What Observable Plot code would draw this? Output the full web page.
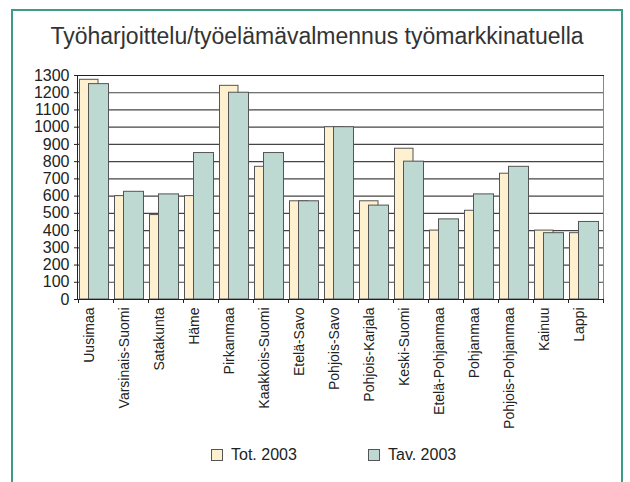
<!DOCTYPE html>
<html><head><meta charset="utf-8">
<script src="https://cdn.jsdelivr.net/npm/d3@7"></script>
<script src="https://cdn.jsdelivr.net/npm/@observablehq/plot@0.6"></script>
<style>
body{margin:0;background:#fff;font-family:"Liberation Sans",Arial,sans-serif;}
#frame{position:absolute;left:11px;top:9px;width:612px;height:520px;border:2px solid #3d9c86;box-sizing:border-box;}
#title{position:absolute;left:0;top:23px;width:634px;text-align:center;font-size:23px;color:#333;white-space:nowrap;}
#chart{position:absolute;left:0;top:60px;}
#chart g[aria-label="y-axis tick label"]{font-size:16px;}
#chart g[aria-label="x-axis tick label"]{font-size:14px;}
.leg{position:absolute;top:446px;font-size:16px;color:#222;line-height:18px;}
.sw{position:absolute;top:449px;width:10px;height:10px;border:1px solid #555;}
</style></head><body>
<div id="frame"></div>
<div id="title">Työharjoittelu/työelämävalmennus työmarkkinatuella</div>
<div id="chart"></div>
<div id="legend"></div>
<script>
const categories = ["Uusimaa","Varsinais-Suomi","Satakunta","Häme","Pirkanmaa","Kaakkois-Suomi","Etelä-Savo","Pohjois-Savo","Pohjois-Karjala","Keski-Suomi","Etelä-Pohjanmaa","Pohjanmaa","Pohjois-Pohjanmaa","Kainuu","Lappi"];
const tot2003 = [1275,600,490,600,1240,770,570,1000,570,875,400,515,730,400,385];
const tav2003 = [1250,625,610,850,1200,850,570,1000,545,800,465,610,770,385,450];
const yTicks = [0,100,200,300,400,500,600,700,800,900,1000,1100,1200,1300];
const seriesNames = ["Tot. 2003","Tav. 2003"];
const seriesColors = ["#fff0cf","#bdd9d1"];

const totRows = categories.map((c,i)=>({region:c, value:tot2003[i]}));
const tavRows = categories.map((c,i)=>({region:c, value:tav2003[i]}));

const chart = Plot.plot({
  width: 630,
  height: 380,
  marginLeft: 77,
  marginRight: 27,
  marginTop: 15,
  marginBottom: 141,
  style: {fontFamily: "'Liberation Sans', Arial, sans-serif", color: "#222", background: "transparent"},
  x: {domain: categories, padding: 0, label: null},
  y: {domain: [0,1300], label: null},
  marks: [
    Plot.ruleY(yTicks.filter(v=>v>0), {stroke:"#444", strokeWidth:1.2}),
    Plot.barY(totRows, {x:"region", y:"value", fill:seriesColors[0], stroke:"#555", strokeWidth:1, insetLeft:1.5, insetRight:15}),
    Plot.barY(tavRows, {x:"region", y:"value", fill:seriesColors[1], stroke:"#555", strokeWidth:1, insetLeft:10.5, insetRight:4.5}),
    Plot.frame({anchor:"right", stroke:"#888"}),
    Plot.frame({anchor:"left", stroke:"#222"}),
    Plot.frame({anchor:"top", stroke:"#222"}),
    Plot.ruleY([0], {stroke:"#222"}),
    Plot.axisY({ticks: yTicks, tickFormat: d => String(d), tickSize:3, tickPadding:5, label:null}),
    Plot.axisX({tickSize:4, tickFormat: () => "", dx:-17.5, label:null}),
    Plot.axisX({ticks:[categories[categories.length-1]], tickSize:4, tickFormat: () => "", dx:17.5, label:null}),
    Plot.axisX({tickSize:0, tickPadding:8, tickRotate:-90, dx:-6, label:null})
  ]
});
document.getElementById("chart").appendChild(chart);

const legend = document.getElementById("legend");
const legX = [211, 368];
seriesNames.forEach((name,i)=>{
  const sw = document.createElement("div");
  sw.className = "sw";
  sw.style.left = legX[i] + "px";
  sw.style.background = seriesColors[i];
  legend.appendChild(sw);
  const t = document.createElement("div");
  t.className = "leg";
  t.style.left = (legX[i] + 20) + "px";
  t.textContent = name;
  legend.appendChild(t);
});
</script>
</body></html>
